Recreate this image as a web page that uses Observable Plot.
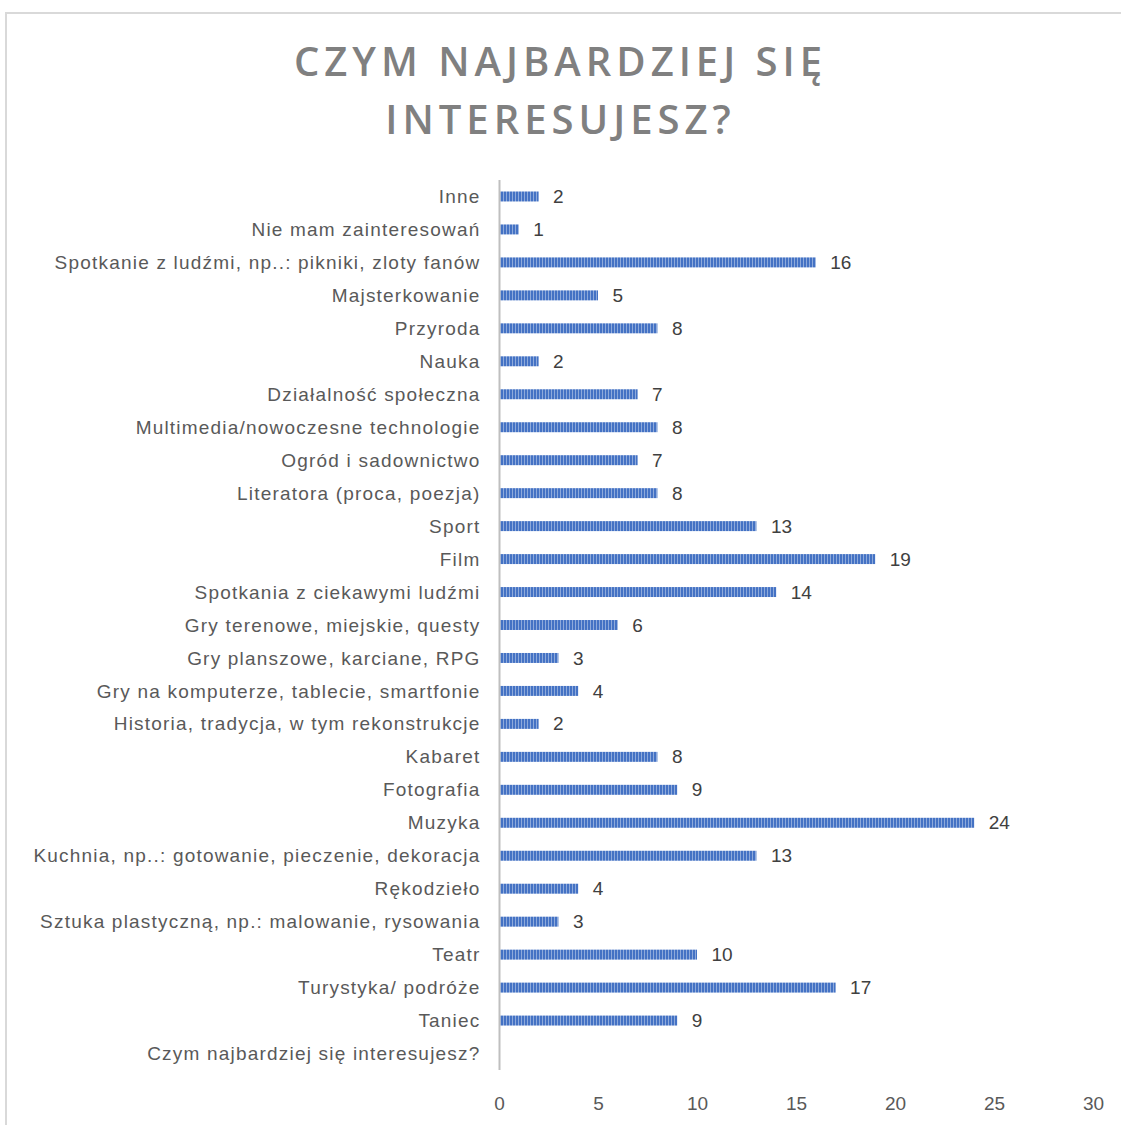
<!DOCTYPE html>
<html>
<head>
<meta charset="utf-8">
<script src="https://cdn.jsdelivr.net/npm/d3@7"></script>
<script src="https://cdn.jsdelivr.net/npm/@observablehq/plot@0.6"></script>
<style>
  html, body { margin: 0; padding: 0; background: #fff; width: 1121px; height: 1125px; overflow: hidden; }
  #frame { position: absolute; left: 5px; top: 12px; width: 1130px; height: 1130px; border: 2px solid #d9d9d9; box-sizing: border-box; }
  #title { position: absolute; left: 0; top: 32px; width: 1121px; text-align: center; font-family: "Open Sans", sans-serif; font-weight: 600; font-size: 40px; line-height: 58px; letter-spacing: 5px; color: #808080; }
  #chart { position: absolute; left: 0; top: 160px; }
</style>
</head>
<body>
<div id="frame"></div>
<div id="title">CZYM NAJBARDZIEJ SIĘ<br>INTERESUJESZ?</div>
<div id="chart"></div>
<script>
const categories = [
  "Inne",
  "Nie mam zainteresowań",
  "Spotkanie z ludźmi, np..: pikniki, zloty fanów",
  "Majsterkowanie",
  "Przyroda",
  "Nauka",
  "Działalność społeczna",
  "Multimedia/nowoczesne technologie",
  "Ogród i sadownictwo",
  "Literatora (proca, poezja)",
  "Sport",
  "Film",
  "Spotkania z ciekawymi ludźmi",
  "Gry terenowe, miejskie, questy",
  "Gry planszowe, karciane, RPG",
  "Gry na komputerze, tablecie, smartfonie",
  "Historia, tradycja, w tym rekonstrukcje",
  "Kabaret",
  "Fotografia",
  "Muzyka",
  "Kuchnia, np..: gotowanie, pieczenie, dekoracja",
  "Rękodzieło",
  "Sztuka plastyczną, np.: malowanie, rysowania",
  "Teatr",
  "Turystyka/ podróże",
  "Taniec",
  "Czym najbardziej się interesujesz?"
];
const values = [2, 1, 16, 5, 8, 2, 7, 8, 7, 8, 13, 19, 14, 6, 3, 4, 2, 8, 9, 24, 13, 4, 3, 10, 17, 9, null];
const xTicks = [0, 5, 10, 15, 20, 25, 30];

const data = categories.map((c, i) => ({category: c, value: values[i]}));
const barData = data.filter(d => d.value != null);

const chart = Plot.plot({
  width: 1121,
  height: 965,
  marginLeft: 499,
  marginRight: 28,
  marginTop: 20,
  marginBottom: 55,
  style: {fontFamily: "'Liberation Sans', sans-serif", fontSize: "19px", color: "#595959", background: "transparent"},
  x: {domain: [0, 30], ticks: xTicks, tickSize: 0, tickPadding: 26, label: null},
  y: {domain: categories, padding: 0, round: false, tickSize: 0, tickPadding: 19, label: null},
  marks: [
    Plot.barX(barData, {x: "value", y: "category", fill: "url(#stripes)", insetTop: 11.5, insetBottom: 11.5}),
    Plot.ruleX([0], {stroke: "#bfbfbf", strokeWidth: 2}),
    Plot.text(barData, {x: "value", y: "category", text: d => String(d.value), textAnchor: "start", dx: 14, fill: "#404040", fontSize: 19})
  ]
});

const ns = "http://www.w3.org/2000/svg";
const defs = document.createElementNS(ns, "defs");
const pat = document.createElementNS(ns, "pattern");
pat.setAttribute("id", "stripes");
pat.setAttribute("patternUnits", "userSpaceOnUse");
pat.setAttribute("width", "3");
pat.setAttribute("height", "10");
const r1 = document.createElementNS(ns, "rect");
r1.setAttribute("width", "3"); r1.setAttribute("height", "10"); r1.setAttribute("fill", "#4472c4");
const r2 = document.createElementNS(ns, "rect");
r2.setAttribute("x", "2"); r2.setAttribute("width", "1"); r2.setAttribute("height", "10"); r2.setAttribute("fill", "#8eaadb");
pat.appendChild(r1); pat.appendChild(r2);
defs.appendChild(pat);
chart.insertBefore(defs, chart.firstChild);

const yLabels = chart.querySelector('g[aria-label="y-axis tick label"]');
if (yLabels) yLabels.style.letterSpacing = "1.2px";

document.getElementById("chart").appendChild(chart);
</script>
</body>
</html>
